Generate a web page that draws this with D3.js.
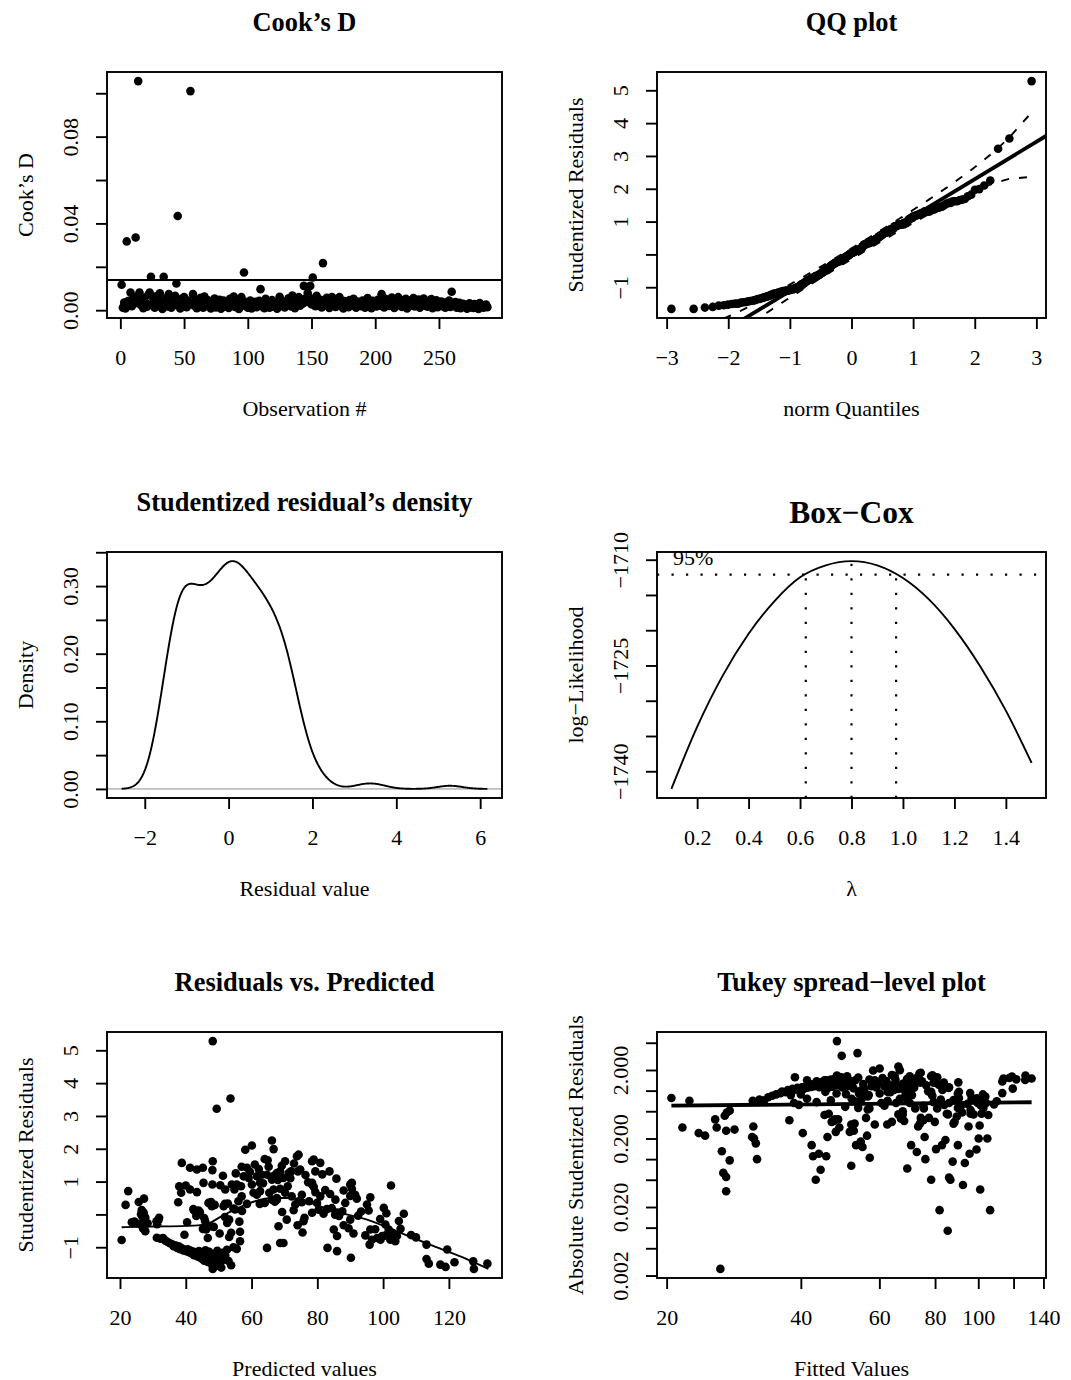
<!DOCTYPE html>
<html>
<head>
<meta charset="utf-8">
<script src="https://cdn.jsdelivr.net/npm/d3@7"></script>
<style>
  body { margin: 0; background: #fff; }
  svg text { font-family: "Liberation Serif", "Times New Roman", Times, serif; fill: #000; }
</style>
</head>
<body>
<svg id="fig" width="1071" height="1380"></svg>
<script>
// ---------- data ----------
// Cook's distance per observation (1..288)
const cooksD = [
  0.0117,0.0012,0.0035,0.0008,0.0317,0.0042,0.0025,0.0081,0.0018,0.0052,0.0031,0.0335,
  0.0062,0.1056,0.0081,0.0024,0.0045,0.0009,0.0058,0.0033,0.0016,0.0071,0.0081,0.0154,
  0.0027,0.0049,0.0011,0.0064,0.0036,0.0021,0.0078,0.0043,0.0006,0.0154,0.0029,0.0055,
  0.0017,0.0074,0.0038,0.0012,0.0047,0.0023,0.0066,0.0123,0.0434,0.0031,0.0008,0.0052,
  0.0019,0.0061,0.0035,0.0014,0.0044,0.0026,0.1010,0.0033,0.0074,0.0021,0.0048,0.0009,
  0.0039,0.0015,0.0057,0.0027,0.0011,0.0063,0.0032,0.0019,0.0046,0.0024,0.0008,0.0041,
  0.0029,0.0054,0.0013,0.0036,0.0021,0.0048,0.0007,0.0031,0.0044,0.0017,0.0026,0.0038,
  0.0010,0.0052,0.0023,0.0034,0.0063,0.0015,0.0028,0.0041,0.0006,0.0022,0.0060,0.0034,
  0.0174,0.0019,0.0037,0.0012,0.0027,0.0045,0.0008,0.0031,0.0020,0.0039,0.0014,0.0026,
  0.0043,0.0097,0.0018,0.0033,0.0009,0.0052,0.0024,0.0036,0.0011,0.0029,0.0047,0.0016,
  0.0038,0.0022,0.0007,0.0035,0.0062,0.0019,0.0043,0.0028,0.0013,0.0040,0.0024,0.0055,
  0.0032,0.0017,0.0068,0.0026,0.0009,0.0044,0.0035,0.0060,0.0021,0.0049,0.0030,0.0112,
  0.0053,0.0038,0.0079,0.0062,0.0112,0.0027,0.0151,0.0044,0.0018,0.0066,0.0035,0.0024,
  0.0048,0.0013,0.0217,0.0039,0.0022,0.0057,0.0031,0.0010,0.0045,0.0061,0.0026,0.0037,
  0.0015,0.0052,0.0028,0.0060,0.0019,0.0034,0.0008,0.0042,0.0025,0.0031,0.0014,0.0047,
  0.0036,0.0021,0.0053,0.0029,0.0011,0.0040,0.0024,0.0033,0.0018,0.0045,0.0027,0.0012,
  0.0038,0.0056,0.0022,0.0031,0.0009,0.0043,0.0026,0.0035,0.0017,0.0048,0.0030,0.0021,
  0.0074,0.0039,0.0013,0.0052,0.0028,0.0044,0.0019,0.0036,0.0058,0.0024,0.0010,0.0041,
  0.0031,0.0060,0.0022,0.0047,0.0015,0.0034,0.0027,0.0053,0.0008,0.0039,0.0020,0.0045,
  0.0032,0.0056,0.0017,0.0037,0.0025,0.0049,0.0012,0.0041,0.0028,0.0054,0.0021,0.0035,
  0.0016,0.0043,0.0030,0.0051,0.0009,0.0038,0.0023,0.0046,0.0014,0.0033,0.0026,0.0040,
  0.0018,0.0029,0.0011,0.0036,0.0024,0.0044,0.0015,0.0085,0.0031,0.0020,0.0038,0.0012,
  0.0027,0.0034,0.0009,0.0022,0.0030,0.0016,0.0025,0.0007,0.0019,0.0032,0.0013,0.0024,
  0.0010,0.0028,0.0017,0.0021,0.0006,0.0033,0.0015,0.0023,0.0011,0.0019,0.0026,0.0014
];

// [predicted value, studentized residual] for each observation
const fitResid = [
  [20.5,-0.78],[21.7,0.29],[22.5,0.71],[23.6,-0.24],[24.4,-0.22],
  [25.7,0.38],[25.9,-0.29],[27.0,-0.43],[27.3,0.48],[27.7,-0.51],
  [27.2,-0.26],[28.4,-0.27],[26.6,0.13],[27.7,-0.096],[26.8,-0.063],
  [27.2,0.055],[27.2,-0.034],[26.4,0.0025],[31.3,-0.30],[31.1,-0.21],
  [31.4,-0.20],[31.7,-0.17],[31.9,-0.10],[31.2,-0.71],
  [32.3,-0.74],[33.1,-0.72],[33.8,-0.80],[34.5,-0.84],[35.2,-0.88],
  [36.0,-0.92],[36.3,-0.97],[37.0,-0.95],[37.4,-1.02],[38.0,-0.98],
  [38.3,-1.06],[38.8,-1.03],[39.3,-1.10],[39.7,-1.08],[40.2,-1.12],
  [40.6,-1.06],[41.0,-1.15],[41.4,-1.10],[41.8,-1.19],[42.2,-1.13],
  [42.5,-1.24],[42.9,-1.16],[43.3,-1.20],[43.6,-1.28],[44.0,-1.12],
  [44.3,-1.31],[44.6,-1.18],[45.0,-1.36],[45.3,-1.22],[45.6,-1.41],
  [46.0,-1.09],[46.4,-1.27],[46.7,-1.45],[47.1,-1.14],[47.4,-1.34],
  [47.8,-1.51],[48.2,-1.66],[48.5,-1.20],[48.9,-1.40],[49.3,-1.56],
  [49.6,-1.11],[50.0,-1.30],[50.4,-1.47],[50.8,-1.62],[51.2,-1.17],
  [51.6,-1.38],[52.0,-1.25],[52.5,-1.08],[53.0,-1.42],[53.8,-1.55],
  [54.5,-1.00],[55.5,-1.05],
  [38.8,1.57],[41.3,1.42],[43.4,1.37],[45.2,1.42],[48.2,1.62],[48.1,1.35],[51.3,1.18],
  [38.0,0.86],[40.0,0.88],[38.6,0.66],[41.3,0.76],[43.4,0.68],[45.4,0.96],[48.1,0.91],[50.5,0.89],[52.0,0.76],
  [37.7,0.37],[39.6,-0.62],[40.4,-0.24],[42.3,0.16],[42.6,0.11],[43.2,-0.05],[43.9,0.12],[44.3,0.07],
  [45.6,-0.11],[45.9,-0.21],[46.2,-0.46],[46.9,0.35],[47.7,0.38],[47.9,0.25],[48.8,0.29],[45.2,-0.44],
  [47.4,-0.36],[48.5,-0.38],[46.7,-0.72],[50.3,-0.58],[51.9,-0.08],[51.5,0.25],[51.9,0.32],[52.6,-0.26],
  [53.2,-0.16],[53.2,-0.69],[53.8,-0.56],[54.5,0.18],[55.0,0.15],[56.0,0.40],[56.3,-0.22],[56.5,-0.53],
  [56.5,-0.82],[57.0,0.55],[57.1,0.105],[57.6,1.16],[58.1,1.97],[60.1,2.10],[58.6,1.42],[59.1,1.11],
  [60.1,0.91],[60.6,0.66],[58.6,0.32],[55.5,0.91],[54.0,0.91],[54.8,0.76],[56.8,0.86],[52.8,0.33],
  [48.2,5.28],[49.4,3.22],[53.6,3.53],
  [61.6,1.16],[63.1,1.21],[62.6,0.96],[64.0,1.69],[64.9,1.65],
  [66.2,2.25],[66.7,1.99],[64.7,1.21],[65.4,0.66],[66.2,0.45],
  [67.7,0.45],[68.2,-0.36],[70.7,-0.16],[68.7,-0.87],[69.7,-0.87],
  [64.7,-1.02],[64.0,0.35],[61.6,0.60],[62.6,0.71],[66.2,1.06],
  [67.7,1.26],[68.7,1.31],[69.7,1.11],[71.3,1.26],[70.2,1.62],
  [72.0,1.31],[73.8,1.77],[74.3,1.82],[74.1,1.31],[71.0,0.86],
  [72.2,0.55],[73.3,0.30],[75.3,0.60],[74.3,0.40],[75.5,-0.55],
  [76.1,-0.10],[74.0,-0.33],[78.4,1.62],[78.4,0.91],[78.4,0.05],
  [66.7,0.76],[68.7,0.78],[67.7,0.50],[70.2,0.66],
  [62.5,0.32],[67.1,0.39],[69.3,0.073],[72.8,0.127],[77.5,0.40],
  [78.9,1.67],[80.9,1.57],[79.4,1.31],[83.7,1.31],[85.8,1.09],
  [78.4,0.96],[79.4,0.68],[82.4,0.74],[78.9,0.84],[74.8,1.37],
  [75.3,0.37],[75.8,-0.21],[79.9,0.35],[80.9,0.55],[80.4,0.14],
  [82.9,0.16],[83.9,0.62],[86.0,0.054],[84.4,0.19],[85.0,-0.46],
  [86.0,-0.66],[85.5,0.45],[88.0,0.73],[90.0,0.91],[90.5,0.96],
  [90.5,0.78],[90.0,0.56],[88.5,0.35],[91.5,0.60],[89.5,-0.42],
  [90.0,-0.16],[88.0,-0.33],[91.0,-0.58],[92.0,0.48],[95.1,0.30],
  [96.1,0.52],[95.6,0.12],[97.6,-0.45],[100.2,0.20],[96.1,-0.46],
  [94.6,-0.64],[96.6,-0.77],[95.9,-0.92],[98.2,-0.72],[99.7,-0.66],
  [100.7,-0.31],[101.7,-0.46],[101.2,-0.61],[102.2,-0.77],[102.7,-0.56],
  [103.7,-0.82],[104.2,-0.66],[105.3,-0.44],[106.3,0.018],[102.4,0.88],
  [100.2,-0.66],[99.2,-0.77],[108.5,-0.63],[83.1,-1.02],[86.0,-1.12],
  [90.2,-1.32],
  [81.9,0.018],[85.4,-0.009],[86.6,-0.05],[87.6,0.092],[92.4,-0.042],[93.3,0.088],[101.0,0.036],[99.1,-0.138],
  [113.2,-0.92],[113.2,-1.36],[113.9,-1.50],[117.4,-1.53],[119.0,-1.60],[119.5,-1.07],
  [121.7,-1.46],[127.4,-1.43],[127.6,-1.66],[131.7,-1.50],[110.0,-0.70],[104.8,-0.20],
  [55.2,1.25],[57.0,1.45],[59.5,1.30],[61.0,1.52],[62.2,1.38],[63.5,0.95],[65.2,1.45],[66.8,1.18],
  [68.0,1.05],[69.2,1.48],[71.8,1.10],[72.9,1.55],[76.4,1.20],[77.2,0.98],[81.5,1.22]
];

// smoother through residuals vs predicted
const lowessX = [20.5, 30, 40, 45.9, 51, 56, 61.1, 66.2, 71.3, 76.3, 85, 95.1, 105.3, 115.4, 125.6, 132.0];
const lowessY = [-0.39, -0.37, -0.35, -0.31, -0.05, 0.20, 0.40, 0.50, 0.50, 0.40, 0.10, -0.16, -0.56, -0.97, -1.37, -1.66];

// robust reference line of the QQ plot
const qqIntercept = 0.02;
const qqSlope = 1.137;

// Box-Cox profile log-likelihood
const bcLambda = [0.1,0.2,0.3,0.4,0.5,0.6,0.7,0.8,0.9,1.0,1.1,1.2,1.3,1.4,1.5];
const bcLogLik = [-1742.5,-1733.7,-1726.4,-1720.5,-1715.9,-1712.5,-1710.8,-1710.2,-1710.8,-1712.6,-1715.6,-1719.8,-1725.1,-1731.4,-1738.8];

// spread-level fit (end points, fitted value vs absolute residual)
const spreadFitX = [20.5, 131.7];
const spreadFitY = [0.604, 0.676];

// axis ticks and labelled subsets
const cookXTicks = [0,50,100,150,200,250];
const cookYTicks = [0,0.02,0.04,0.06,0.08,0.10];
const cookYLabels = [0,0.04,0.08];
const qqXTicks = [-3,-2,-1,0,1,2,3];
const residTicks = [-1,0,1,2,3,4,5];
const residLabels = [-1,1,2,3,4,5];
const densXTicks = [-2,0,2,4,6];
const densYTicks = [0,0.05,0.10,0.15,0.20,0.25,0.30,0.35];
const densYLabels = [0,0.10,0.20,0.30];
const bcXTicks = [0.2,0.4,0.6,0.8,1.0,1.2,1.4];
const bcYTicks = [-1740,-1735,-1730,-1725,-1720,-1715,-1710];
const bcYLabels = [-1740,-1725,-1710];
const predTicks = [20,40,60,80,100,120];
const tukeyXTicks = [20,40,60,80,100,120,140];
const tukeyXLabels = [20,40,60,80,100,140];
const tukeyYTicks = [0.002,0.005,0.01,0.02,0.05,0.1,0.2,0.5,1,2,5];
const tukeyYLabels = [0.002,0.02,0.2,2];

// ---------- helpers ----------
const FONT = '"Liberation Serif", "Times New Roman", Times, serif';
const FS = 22, LW = 1.9, TICK = 11, R = 4.3;
const svg = d3.select('#fig');
svg.append('rect').attr('width', 1071).attr('height', 1380).attr('fill', '#fff');

const pad = ([a, b]) => { const s = (b - a) * 0.04; return [a - s, b + s]; };
const has = list => d => list.some(v => Math.abs(v - d) < 1e-9);

function qnorm(p) {
  const a = [-3.969683028665376e+01, 2.209460984245205e+02, -2.759285104469687e+02, 1.383577518672690e+02, -3.066479806614716e+01, 2.506628277459239e+00];
  const b = [-5.447609879822406e+01, 1.615858368580409e+02, -1.556989798598866e+02, 6.680131188771972e+01, -1.328068155288572e+01];
  const c = [-7.784894002430293e-03, -3.223964580411365e-01, -2.400758277161838e+00, -2.549732539343734e+00, 4.374664141464968e+00, 2.938163982698783e+00];
  const d = [7.784695709041462e-03, 3.224671290700398e-01, 2.445134137142996e+00, 3.754408661907416e+00];
  const pl = 0.02425;
  let q, r;
  if (p < pl) {
    q = Math.sqrt(-2 * Math.log(p));
    return (((((c[0]*q+c[1])*q+c[2])*q+c[3])*q+c[4])*q+c[5]) / ((((d[0]*q+d[1])*q+d[2])*q+d[3])*q+1);
  }
  if (p > 1 - pl) {
    q = Math.sqrt(-2 * Math.log(1 - p));
    return -(((((c[0]*q+c[1])*q+c[2])*q+c[3])*q+c[4])*q+c[5]) / ((((d[0]*q+d[1])*q+d[2])*q+d[3])*q+1);
  }
  q = p - 0.5; r = q * q;
  return (((((a[0]*r+a[1])*r+a[2])*r+a[3])*r+a[4])*r+a[5])*q / (((((b[0]*r+b[1])*r+b[2])*r+b[3])*r+b[4])*r+1);
}
const dnorm = x => Math.exp(-x * x / 2) / Math.sqrt(2 * Math.PI);

function panel(id, b) {
  const g = svg.append('g');
  g.append('clipPath').attr('id', id).append('rect')
    .attr('x', b.x0).attr('y', b.y0).attr('width', b.x1 - b.x0).attr('height', b.y1 - b.y0);
  const plot = g.append('g').attr('clip-path', `url(#${id})`);
  return { g, plot };
}
function box(g, b) {
  g.append('rect').attr('x', b.x0).attr('y', b.y0).attr('width', b.x1 - b.x0).attr('height', b.y1 - b.y0)
    .attr('fill', 'none').attr('stroke', '#000').attr('stroke-width', LW);
}
function axisBottom(g, b, scale, ticks, show, fmt) {
  const ax = g.append('g').attr('transform', `translate(0,${b.y1})`)
    .call(d3.axisBottom(scale).tickValues(ticks).tickSize(TICK).tickFormat(d => show(d) ? fmt(d) : ''));
  ax.select('.domain').remove();
  ax.attr('font-family', FONT).attr('font-size', FS);
  ax.selectAll('line').attr('stroke', '#000').attr('stroke-width', LW);
  ax.selectAll('text').attr('y', 47).attr('dy', null).attr('fill', '#000');
}
function axisLeft(g, b, scale, ticks, show, fmt) {
  const ax = g.append('g').attr('transform', `translate(${b.x0},0)`)
    .call(d3.axisLeft(scale).tickValues(ticks).tickSize(TICK).tickFormat(d => show(d) ? fmt(d) : ''));
  ax.select('.domain').remove();
  ax.attr('font-family', FONT).attr('font-size', FS);
  ax.selectAll('line').attr('stroke', '#000').attr('stroke-width', LW);
  ax.selectAll('text').attr('transform', 'rotate(-90)').attr('x', 0).attr('y', -29)
    .attr('dy', null).attr('text-anchor', 'middle').attr('fill', '#000');
}
function labels(b, main, xlab, ylab, mainSize, mainY) {
  const cx = (b.x0 + b.x1) / 2, cy = (b.y0 + b.y1) / 2;
  svg.append('text').attr('x', cx).attr('y', mainY !== undefined ? mainY : b.y0 - 41.5)
    .attr('text-anchor', 'middle').attr('font-weight', 'bold').attr('font-size', mainSize || 26.4).text(main);
  svg.append('text').attr('x', cx).attr('y', b.y1 + 98).attr('text-anchor', 'middle')
    .attr('font-size', FS).text(xlab);
  svg.append('text').attr('transform', `translate(${b.x0 - 74},${cy}) rotate(-90)`)
    .attr('text-anchor', 'middle').attr('font-size', FS).text(ylab);
}
function dots(plot, data, x, y) {
  plot.selectAll(null).data(data).join('circle')
    .attr('cx', d => x(d[0])).attr('cy', d => y(d[1])).attr('r', R).attr('fill', '#000');
}

const n = fitResid.length;
const resid = fitResid.map(d => d[1]);
const pred = fitResid.map(d => d[0]);

// ---------- Cook's D ----------
{
  const b = { x0: 107, x1: 502, y0: 72, y1: 318 };
  const { g, plot } = panel('clip-cook', b);
  const x = d3.scaleLinear().domain(pad([1, cooksD.length])).range([b.x0, b.x1]);
  const y = d3.scaleLinear().domain(pad(d3.extent(cooksD))).range([b.y1, b.y0]);
  const cut = 4 / cooksD.length;
  plot.append('line').attr('x1', b.x0).attr('x2', b.x1).attr('y1', y(cut)).attr('y2', y(cut))
    .attr('stroke', '#000').attr('stroke-width', LW);
  dots(plot, cooksD.map((v, i) => [i + 1, v]), x, y);
  box(g, b);
  axisBottom(g, b, x, cookXTicks, () => true, d3.format('d'));
  axisLeft(g, b, y, cookYTicks, has(cookYLabels), d3.format('.2f'));
  labels(b, 'Cook’s D', 'Observation #', 'Cook’s D');
}

// ---------- QQ plot ----------
{
  const b = { x0: 657, x1: 1046, y0: 72, y1: 318 };
  const { g, plot } = panel('clip-qq', b);
  const srt = resid.slice().sort(d3.ascending);
  const P = srt.map((_, i) => (i + 0.5) / n);
  const z = P.map(qnorm);
  const x = d3.scaleLinear().domain(pad(d3.extent(z))).range([b.x0, b.x1]);
  const y = d3.scaleLinear().domain(pad(d3.extent(srt))).range([b.y1, b.y0]);
  const xd = x.domain();
  plot.append('line')
    .attr('x1', x(xd[0])).attr('y1', y(qqIntercept + qqSlope * xd[0]))
    .attr('x2', x(xd[1])).attr('y2', y(qqIntercept + qqSlope * xd[1]))
    .attr('stroke', '#000').attr('stroke-width', 3.8);
  const zz = qnorm(0.975);
  const env = z.map((zi, i) => {
    const se = (qqSlope / dnorm(zi)) * Math.sqrt(P[i] * (1 - P[i]) / n);
    const fit = qqIntercept + qqSlope * zi;
    return { z: zi, up: fit + zz * se, lo: fit - zz * se };
  });
  const envLine = key => d3.line().x(d => x(d.z)).y(d => y(d[key]));
  ['up', 'lo'].forEach(k => plot.append('path').attr('d', envLine(k)(env))
    .attr('fill', 'none').attr('stroke', '#000').attr('stroke-width', LW).attr('stroke-dasharray', '8 10'));
  dots(plot, z.map((zi, i) => [zi, srt[i]]), x, y);
  box(g, b);
  axisBottom(g, b, x, qqXTicks, () => true, d3.format('d'));
  axisLeft(g, b, y, residTicks, has(residLabels), d3.format('d'));
  labels(b, 'QQ plot', 'norm Quantiles', 'Studentized Residuals');
}

// ---------- density of studentized residuals ----------
{
  const b = { x0: 107, x1: 502, y0: 552, y1: 798 };
  const { g, plot } = panel('clip-dens', b);
  const srt = resid.slice().sort(d3.ascending);
  const iqr = d3.quantileSorted(srt, 0.75) - d3.quantileSorted(srt, 0.25);
  const bw = 0.9 * Math.min(d3.deviation(resid), iqr / 1.34) * Math.pow(n, -0.2);
  const from = srt[0] - 3 * bw, to = srt[n - 1] + 3 * bw;
  const grid = d3.range(512).map(i => from + (to - from) * i / 511);
  const dens = grid.map(t => [t, d3.sum(resid, r => dnorm((t - r) / bw)) / (n * bw)]);
  const x = d3.scaleLinear().domain(pad([from, to])).range([b.x0, b.x1]);
  const y = d3.scaleLinear().domain(pad(d3.extent(dens, d => d[1]))).range([b.y1, b.y0]);
  plot.append('line').attr('x1', b.x0).attr('x2', b.x1).attr('y1', y(0)).attr('y2', y(0))
    .attr('stroke', '#bebebe').attr('stroke-width', LW);
  plot.append('path').attr('d', d3.line().x(d => x(d[0])).y(d => y(d[1]))(dens))
    .attr('fill', 'none').attr('stroke', '#000').attr('stroke-width', LW);
  box(g, b);
  axisBottom(g, b, x, densXTicks, () => true, d3.format('d'));
  axisLeft(g, b, y, densYTicks, has(densYLabels), d3.format('.2f'));
  labels(b, 'Studentized residual’s density', 'Residual value', 'Density');
}

// ---------- Box-Cox ----------
{
  const b = { x0: 657, x1: 1046, y0: 552, y1: 798 };
  const { g, plot } = panel('clip-bc', b);
  const mx = d3.maxIndex(bcLogLik);
  const lim = bcLogLik[mx] - 0.5 * 3.841459;
  const x = d3.scaleLinear().domain(pad(d3.extent(bcLambda))).range([b.x0, b.x1]);
  const y = d3.scaleLinear().domain(pad(d3.extent(bcLogLik.concat([lim])))).range([b.y1, b.y0]);
  const y0 = y.domain()[0];
  const pts = bcLambda.map((l, i) => [l, bcLogLik[i]]);
  plot.append('path').attr('d', d3.line().curve(d3.curveMonotoneX).x(d => x(d[0])).y(d => y(d[1]))(pts))
    .attr('fill', 'none').attr('stroke', '#000').attr('stroke-width', LW);
  const dotted = { stroke: '#000', 'stroke-width': 2.2, 'stroke-dasharray': '2.2 12.3' };
  const seg = (xa, ya, xb, yb) => {
    const s = plot.append('line').attr('x1', xa).attr('y1', ya).attr('x2', xb).attr('y2', yb);
    Object.entries(dotted).forEach(([k, v]) => s.attr(k, v));
  };
  seg(b.x0, y(lim), b.x1, y(lim));
  seg(x(bcLambda[mx]), y(y0), x(bcLambda[mx]), y(bcLogLik[mx]));
  const i = bcLogLik.findIndex(v => v > lim);
  const lo = bcLambda[i - 1] + (lim - bcLogLik[i - 1]) * (bcLambda[i] - bcLambda[i - 1]) / (bcLogLik[i] - bcLogLik[i - 1]);
  let j = i; while (bcLogLik[j + 1] > lim) j++;
  const hi = bcLambda[j] + (lim - bcLogLik[j]) * (bcLambda[j + 1] - bcLambda[j]) / (bcLogLik[j + 1] - bcLogLik[j]);
  seg(x(lo), y(y0), x(lo), y(lim));
  seg(x(hi), y(y0), x(hi), y(lim));
  box(g, b);
  g.append('text').attr('x', x(bcLambda[0]) + 1.5).attr('y', y(lim) - 10)
    .attr('font-size', FS).text('95%');
  axisBottom(g, b, x, bcXTicks, () => true, d3.format('.1f'));
  axisLeft(g, b, y, bcYTicks, has(bcYLabels), d3.format('d'));
  labels(b, 'Box−Cox', 'λ', 'log−Likelihood', 31.5, 523);
}

// ---------- residuals vs predicted ----------
{
  const b = { x0: 107, x1: 502, y0: 1032, y1: 1278 };
  const { g, plot } = panel('clip-rvp', b);
  const x = d3.scaleLinear().domain(pad(d3.extent(pred))).range([b.x0, b.x1]);
  const y = d3.scaleLinear().domain(pad(d3.extent(resid))).range([b.y1, b.y0]);
  dots(plot, fitResid, x, y);
  plot.append('path')
    .attr('d', d3.line().curve(d3.curveMonotoneX).x(d => x(d[0])).y(d => y(d[1]))(lowessX.map((v, i) => [v, lowessY[i]])))
    .attr('fill', 'none').attr('stroke', '#000').attr('stroke-width', LW);
  box(g, b);
  axisBottom(g, b, x, predTicks, () => true, d3.format('d'));
  axisLeft(g, b, y, residTicks, has(residLabels), d3.format('d'));
  labels(b, 'Residuals vs. Predicted', 'Predicted values', 'Studentized Residuals');
}

// ---------- Tukey spread-level plot ----------
{
  const b = { x0: 657, x1: 1046, y0: 1032, y1: 1278 };
  const { g, plot } = panel('clip-tukey', b);
  const absR = fitResid.map(d => [d[0], Math.abs(d[1])]);
  const logPad = ext => pad(ext.map(Math.log)).map(Math.exp);
  const x = d3.scaleLog().domain(logPad(d3.extent(absR, d => d[0]))).range([b.x0, b.x1]);
  const y = d3.scaleLog().domain(logPad(d3.extent(absR, d => d[1]))).range([b.y1, b.y0]);
  dots(plot, absR, x, y);
  plot.append('line')
    .attr('x1', x(spreadFitX[0])).attr('y1', y(spreadFitY[0]))
    .attr('x2', x(spreadFitX[1])).attr('y2', y(spreadFitY[1]))
    .attr('stroke', '#000').attr('stroke-width', 3.8);
  box(g, b);
  axisBottom(g, b, x, tukeyXTicks, has(tukeyXLabels), d3.format('d'));
  axisLeft(g, b, y, tukeyYTicks, has(tukeyYLabels), d3.format('.3f'));
  labels(b, 'Tukey spread−level plot', 'Fitted Values', 'Absolute Studentized Residuals');
}
</script>
</body>
</html>
